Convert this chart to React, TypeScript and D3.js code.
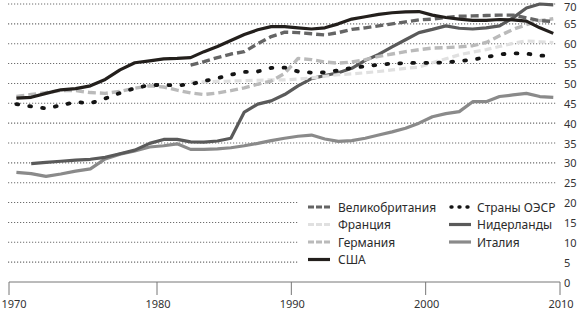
import React from "react";
import * as d3 from "d3";

const W = 578;
const H = 312;

const yTicks = [0, 5, 10, 15, 20, 25, 30, 35, 40, 45, 50, 55, 60, 65, 70];
const xTicks = [1970, 1980, 1990, 2000, 2010];

const usaStart = 1970;
const usa = [46.3,46.5,47.5,48.4,48.7,49.4,51.0,53.4,55.2,55.7, 56.2,56.3,56.5,58.0,59.3,60.8,62.3,63.5,64.3,64.3, 64.0,63.7,64.0,65.0,66.2,66.8,67.4,67.8,68.0,68.1, 67.2,66.6,66.2,65.9,65.9,66.1,66.0,65.7,64.0,62.6];

const ukStart = 1982;
const uk = [54.6,55.5,56.5,57.4,58.0,60.0,61.8,62.9, 62.8,62.5,62.2,62.8,63.6,64.0,64.5,65.0,65.5,66.0, 66.2,66.6,66.9,67.0,67.1,67.2,67.2,66.5,65.8,65.6];

const oecdStart = 1970;
const oecd = [44.8,44.2,43.7,44.5,45.3,45.0,46.2,47.6,48.8,49.6, 49.6,49.5,49.8,50.6,51.3,52.2,52.9,53.0,53.9,54.0, 53.0,52.7,52.8,53.3,53.9,54.3,54.7,55.0,55.1,55.2, 55.2,55.3,55.6,56.0,56.6,57.3,57.6,57.5,57.0,57.0];

const germanyStart = 1970;
const germany = [46.7,47.2,47.7,48.2,48.2,47.7,47.5,48.0,48.8,49.4, 49.1,48.3,47.6,47.2,47.6,48.2,48.9,49.8,50.6,52.5, 56.3,56.0,55.4,55.1,55.4,56.0,56.8,57.4,58.0,58.5, 58.9,59.0,59.2,59.5,60.3,62.0,63.6,64.8,65.8,66.3];

const franceStart = 1982;
const france = [50.4,50.4,50.5,50.6,50.7,50.8,50.9,50.9, 51.1,51.4,51.8,52.2,52.4,52.7,53.0,53.4,53.8,54.1, 55.2,56.2,57.2,57.9,58.5,59.3,60.1,60.7,60.5,60.3];

const netherlandsStart = 1971;
const netherlands = [29.8,30.1,30.4,30.7,30.9,31.4,32.3,33.2,34.9, 35.9,35.9,35.3,35.2,35.5,36.2,42.8,44.8,45.6,47.2, 49.4,51.2,52.0,52.7,53.8,55.8,57.3,59.2,61.0,62.8, 63.6,64.5,63.9,63.7,64.0,64.5,66.5,69.0,70.0,69.8];

const italyStart = 1970;
const italy = [27.6,27.3,26.6,27.2,27.9,28.5,31.0,32.2,33.0,34.0, 34.3,34.8,33.4,33.4,33.5,33.8,34.3,34.9,35.6,36.2, 36.7,37.0,36.0,35.4,35.6,36.2,37.0,37.8,38.7,40.0, 41.6,42.4,42.9,45.4,45.4,46.7,47.1,47.5,46.7,46.5];

type Series = {
  name: string;
  start: number;
  values: number[];
  color: string;
  width: number;
  dash?: string;
  cap?: string;
};

const series: Series[] = [
  { name: "Италия", start: italyStart, values: italy, color: "#8a8a8a", width: 3.2 },
  { name: "Нидерланды", start: netherlandsStart, values: netherlands, color: "#5a5a5a", width: 3.2 },
  { name: "Франция", start: franceStart, values: france, color: "#e0e0e0", width: 3.2, dash: "7,4" },
  { name: "Германия", start: germanyStart, values: germany, color: "#bababa", width: 3.4, dash: "8,4" },
  { name: "Страны ОЭСР", start: oecdStart, values: oecd, color: "#141414", width: 3.8, dash: "1.8,11.2", cap: "round" },
  { name: "Великобритания", start: ukStart, values: uk, color: "#656565", width: 3.4, dash: "8,4" },
  { name: "США", start: usaStart, values: usa, color: "#231f1c", width: 3.2 },
];

const legendCol1 = ["Великобритания", "Франция", "Германия", "США"];
const legendCol2 = ["Страны ОЭСР", "Нидерланды", "Италия"];

const FONT = "'Noto Sans', 'DejaVu Sans', sans-serif";

export default function App() {
  const x = d3.scaleLinear().domain([1970, 1980, 2010]).range([9, 157, 560]);
  const y = d3.scaleLinear().domain([0, 70]).range([282, 4]);

  const line = d3
    .line<[number, number]>()
    .x((d) => x(d[0] + 0.5))
    .y((d) => y(d[1]))
    .curve(d3.curveLinear);

  const byName = (n: string) => series.find((s) => s.name === n)!;

  const legendRow = (i: number) => 207 + i * 17.5;

  const legendItem = (name: string, i: number, sx: number, tx: number) => {
    const s = byName(name);
    const cy = legendRow(i);
    let dash = s.dash;
    if (s.dash && !s.cap) dash = "6,2";
    if (s.cap) dash = "1,7";
    return (
      <g key={name}>
        <line
          x1={sx + (s.cap ? 2 : 0)}
          x2={sx + 22}
          y1={cy}
          y2={cy}
          stroke={s.color}
          strokeWidth={s.cap ? 3.4 : 3.2}
          strokeDasharray={dash}
          strokeLinecap={s.cap ? "round" : "butt"}
        />
        <text x={tx} y={cy} dominantBaseline="central" fontSize={12} fill="#2b2b2b" fontFamily={FONT}>
          {name}
        </text>
      </g>
    );
  };

  return (
    <svg width={W} height={H} style={{ position: "absolute", left: 0, top: 0, background: "#fff" }}>
      {yTicks.filter((t) => t > 0).map((t) => (
        <line
          key={"g" + t}
          x1={8}
          x2={556}
          y1={y(t)}
          y2={y(t)}
          stroke="#6e6e6e"
          strokeWidth={1.1}
          strokeDasharray="1.2,1.8"
        />
      ))}
      {yTicks.map((t) => (
        <text
          key={"yl" + t}
          x={564}
          y={Math.max(y(t), 6)}
          dominantBaseline="central"
          fontSize={11}
          fill="#333"
          fontFamily={FONT}
        >
          {t}
        </text>
      ))}
      <line x1={x(1970)} x2={x(2010)} y1={y(0)} y2={y(0)} stroke="#777" strokeWidth={1} />
      {xTicks.map((t) => (
        <g key={"xt" + t}>
          <line x1={x(t)} x2={x(t)} y1={y(0)} y2={y(0) + 13} stroke="#777" strokeWidth={1} />
          <text
            x={Math.max(x(t) + 1, 14)}
            y={308}
            textAnchor="middle"
            fontSize={11}
            fill="#333"
            fontFamily={FONT}
          >
            {t}
          </text>
        </g>
      ))}
      <rect x={298} y={192} width={259} height={78} fill="#fff" />
      {series.map((s) => (
        <path
          key={s.name}
          d={line(s.values.map((v, i) => [s.start + i, v] as [number, number])) || ""}
          fill="none"
          stroke={s.color}
          strokeWidth={s.width}
          strokeDasharray={s.dash}
          strokeLinecap={s.cap ? "round" : "butt"}
          strokeLinejoin="round"
        />
      ))}
      {legendCol1.map((n, i) => legendItem(n, i, 308, 338))}
      {legendCol2.map((n, i) => legendItem(n, i, 449, 477))}
    </svg>
  );
}
